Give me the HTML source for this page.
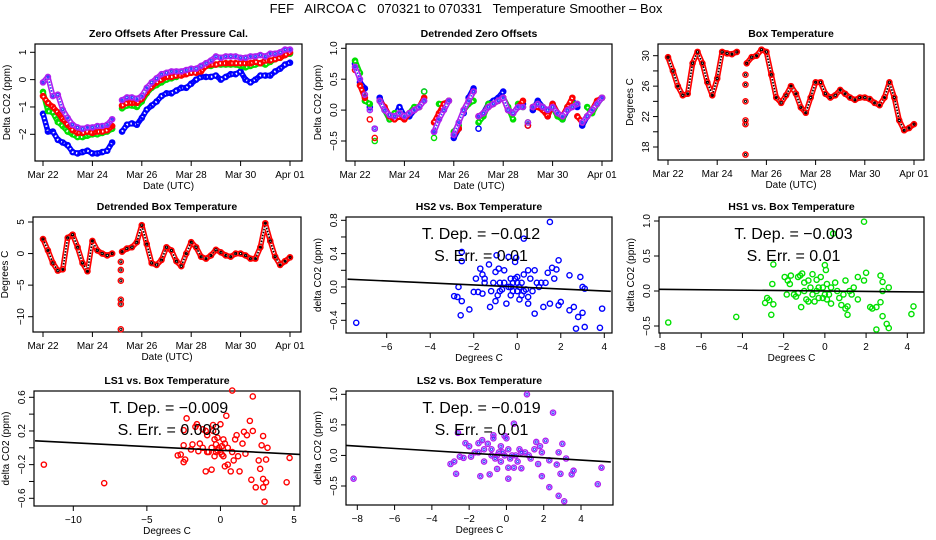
<!DOCTYPE html>
<html><head><meta charset="utf-8"><style>
html,body{margin:0;padding:0;background:#fff;}
svg{display:block;font-family:"Liberation Sans",Arial,sans-serif;}
</style></head><body>
<svg id="chart" width="936" height="540" viewBox="0 0 936 540" xmlns="http://www.w3.org/2000/svg">
<rect width="936" height="540" fill="#fff"/>
<text x="466" y="13" font-size="13" text-anchor="middle" xml:space="preserve">FEF   AIRCOA C   070321 to 070331   Temperature Smoother – Box</text>
</svg>
<script>
// ---------- data ----------
const times = [0,0.2,0.4,0.6,0.8,1,1.2,1.4,1.6,1.8,2,2.2,2.4,2.6,2.8,3,3.2,3.4,3.6,3.8,4,4.2,4.4,4.6,4.8,5,5.2,5.4,5.6,5.8,6,6.2,6.4,6.6,6.8,7,7.2,7.4,7.6,7.8,8,8.2,8.4,8.6,8.8,9,9.2,9.4,9.6,9.8,10];
const dateTicks = [0,2,4,6,8,10];
const dateLabels = ["Mar 22","Mar 24","Mar 26","Mar 28","Mar 30","Apr 01"];

const zeroBlue = [-1.25,-1.9,-1.9,-2.2,-2.3,-2.4,-2.65,-2.7,-2.65,-2.6,-2.7,-2.7,-2.65,-2.6,-2.3,null,-1.9,-1.65,-1.6,-1.65,-1.4,-1.1,-0.95,-0.8,-0.6,-0.5,-0.5,-0.4,-0.3,-0.3,-0.15,0.0,0.1,0.1,0.1,0.15,0.0,0.1,0.2,0.2,0.3,0.0,-0.1,0.0,0.15,0.15,0.15,0.3,0.4,0.55,0.62];
const zeroGreen = [-0.45,-1.15,-1.2,-1.55,-1.7,-1.9,-2.0,-2.1,-2.1,-2.05,-2.0,-2.0,-1.95,-1.9,-1.8,null,-1.05,-0.95,-0.95,-1.0,-0.8,-0.5,-0.3,-0.2,-0.1,0.0,0.05,0.1,0.2,0.3,0.3,0.35,0.45,0.5,0.5,0.55,0.55,0.55,0.55,0.55,0.5,0.45,0.5,0.55,0.6,0.55,0.65,0.75,0.8,0.9,0.95];
const zeroRed = [-0.6,-0.85,-1.0,-1.2,-1.45,-1.65,-1.85,-1.95,-1.95,-1.9,-1.95,-1.9,-1.9,-1.85,-1.7,null,-0.95,-0.85,-0.85,-0.85,-0.7,-0.45,-0.25,-0.1,0.0,0.1,0.1,0.15,0.15,0.2,0.25,0.25,0.3,0.5,0.55,0.55,0.6,0.6,0.6,0.6,0.6,0.6,0.6,0.65,0.6,0.7,0.7,0.75,0.8,0.9,1.0];
const zeroPurple = [-0.1,0.1,-0.6,-0.55,-1.1,-1.4,-1.65,-1.75,-1.8,-1.75,-1.75,-1.7,-1.7,-1.65,-1.45,null,-0.75,-0.65,-0.65,-0.7,-0.6,-0.3,-0.1,0.05,0.2,0.25,0.3,0.3,0.3,0.35,0.4,0.4,0.5,0.6,0.7,0.85,0.8,0.85,0.85,0.85,0.8,0.8,0.85,0.85,0.9,0.85,0.95,0.95,1.0,1.1,1.1];

const detBlue = [0.75,0.45,0.35,0.05,-0.3,0.2,0.0,-0.15,-0.1,0.05,-0.1,-0.1,0.0,0.05,0.3,null,-0.35,-0.1,0.05,0.15,-0.45,-0.3,-0.05,0.2,0.35,-0.3,-0.05,0.1,0.15,0.2,0.3,0.0,-0.05,0.05,0.1,-0.25,0.0,0.15,0.05,-0.1,0.1,-0.05,-0.15,0.0,0.15,0.05,-0.25,-0.1,0.0,0.1,0.2];
const detGreen = [0.8,0.6,0.15,0.1,-0.5,0.15,0.0,-0.15,-0.05,-0.05,-0.1,-0.05,0.05,0.05,0.3,null,-0.45,0.1,0.1,0.15,-0.35,-0.25,0.0,0.1,0.15,-0.2,-0.1,0.1,0.1,0.15,0.2,0.05,-0.15,0.1,0.05,-0.2,0.05,0.1,0.05,-0.05,0.05,-0.1,-0.15,0.05,0.1,0.1,-0.2,0.05,-0.05,0.1,0.2];
const detRed = [0.65,0.4,0.2,-0.15,-0.45,0.15,0.05,-0.1,-0.15,-0.1,-0.15,-0.05,0.0,0.05,0.2,null,-0.2,-0.05,0.1,0.15,-0.4,-0.3,0.0,0.15,0.3,-0.1,-0.05,0.05,0.1,0.15,0.2,0.0,-0.05,0.05,0.15,-0.25,0.05,0.05,0.0,-0.1,0.1,-0.05,-0.1,0.05,0.2,-0.1,-0.2,-0.1,0.0,0.15,0.2];
const detPurple = [0.7,0.5,0.25,0.0,-0.3,0.15,0.0,-0.08,-0.1,-0.05,-0.1,-0.05,0.0,0.05,0.15,null,-0.35,-0.15,0.0,0.15,-0.4,-0.2,0.0,0.15,0.3,-0.1,-0.05,0.05,0.1,0.15,0.2,0.0,-0.05,0.05,0.05,-0.2,0.05,0.1,0.05,0.0,0.05,-0.05,-0.1,0.0,0.05,0.1,-0.2,-0.1,0.0,0.1,0.2];

const boxTemp = [29.8,28,26,24.8,25,29,30.5,29,26.5,24.8,27,30.5,30.3,30.2,30.5,null,29,29.8,30,30.8,30.5,27.5,24.5,23.8,24.8,26,25,23.2,22.5,24.5,26.5,26.5,25,24.5,24.8,25.5,25,24.5,24.2,24.5,24.5,24.3,23.8,23.5,24.5,26.5,24.5,21.5,20.2,20.5,21.0];
const gapTimes = [3.15,3.15,3.15,3.15,3.15,3.15];
const boxTempGap = [17.0,21.0,21.5,24.0,26.2,27.5];

const detTemp = [2.3,0.5,-1.5,-2.7,-2.5,2.5,3.0,1.0,-1.5,-2.8,2.0,0.5,0.0,-0.3,0.0,null,0.3,0.8,1.0,1.8,4.5,1.5,-1.5,-1.8,-1.0,1.0,0.5,-1.2,-2.0,0.0,1.8,1.0,-0.5,-0.8,-0.3,0.6,0.2,-0.3,-0.5,0.0,0.0,-0.3,-0.8,-0.8,1.0,4.8,2.0,-0.5,-1.8,-1.2,-0.6];
const detTempGap = [-12,-8,-7.3,-4.3,-2.6,-1.3];

const hs2Points = [[-7.4,-0.43],[-2.9,-0.11],[-2.75,-0.12],[-2.7,0.0],[-2.6,-0.34],[-2.55,-0.17],[-2.55,0.31],[-2.55,0.42],[-2.2,-0.27],[-2,-0.06],[-1.9,0.1],[-1.8,-0.06],[-1.7,0.22],[-1.6,0.15],[-1.6,-0.08],[-1.5,0.05],[-1.5,0.1],[-1.3,0.27],[-1.25,-0.24],[-1.2,-0.05],[-1.0,0.18],[-0.95,0.38],[-0.9,-0.1],[-0.85,0.22],[-0.8,0.05],[-0.7,-0.03],[-0.6,0.2],[-0.5,-0.2],[-0.4,0.36],[-0.3,0.1],[-0.3,-0.1],[-0.2,0.05],[-0.1,0.3],[-0.05,0.35],[0,-0.05],[0,0.12],[0.1,0.0],[0.2,-0.1],[0.3,0.58],[0.3,0.15],[0.4,-0.03],[0.5,0.2],[0.5,-0.2],[0.6,0.1],[0.7,-0.05],[0.8,-0.32],[0.8,0.2],[1.0,0.0],[1.1,0.05],[1.2,-0.24],[1.4,0.17],[1.5,0.78],[1.5,-0.2],[1.6,0.23],[1.7,0.1],[1.8,0.21],[1.9,0.32],[1.9,-0.22],[2.0,-0.18],[2.4,0.14],[2.4,-0.28],[2.6,-0.24],[2.7,-0.5],[2.8,-0.36],[2.9,0.12],[3.0,-0.31],[3.0,0.0],[3.1,-0.48],[3.8,-0.49],[3.9,-0.26],[3.1,-0.02],[-1.0,-0.17],[-0.8,-0.05],[0.2,0.05],[-0.4,0.0],[0.5,-0.12],[-0.6,0.05],[0.1,-0.15],[-0.2,-0.05],[0.9,0.05],[1.3,0.05],[-1.1,0.05],[-0.1,0.1],[0.0,0.05],[-0.3,0.0],[0.3,-0.05]];
const hs1Points = [[-7.6,-0.45],[-4.3,-0.37],[-2.9,-0.17],[-2.8,-0.1],[-2.7,-0.13],[-2.6,-0.34],[-2.55,0.1],[-2.5,0.38],[-2.5,-0.19],[-1.95,0.2],[-1.85,-0.05],[-1.8,0.15],[-1.7,0.1],[-1.65,0.22],[-1.5,-0.05],[-1.4,-0.08],[-1.3,0.2],[-1.2,0.22],[-1.15,-0.23],[-1.1,0.25],[-1.0,0.12],[-0.9,-0.12],[-0.8,0.15],[-0.7,0.05],[-0.6,0.24],[-0.5,-0.15],[-0.4,0.16],[-0.3,0.05],[-0.2,0.2],[-0.1,-0.1],[0,0.37],[0.05,0.3],[0.1,0.1],[0.2,-0.05],[0.3,-0.18],[0.4,0.82],[0.5,0.12],[0.7,-0.1],[0.8,-0.2],[1.0,0.15],[1.0,-0.25],[1.1,-0.34],[1.1,-0.22],[1.2,0.0],[1.4,0.05],[1.6,0.2],[1.6,-0.12],[1.9,0.99],[1.9,0.15],[2.0,0.26],[2.2,-0.23],[2.3,-0.25],[2.5,-0.23],[2.5,-0.55],[2.7,0.22],[2.7,-0.16],[2.8,0.13],[2.8,-0.36],[2.8,0.0],[3.0,-0.47],[3.1,-0.53],[3.1,0.05],[4.2,-0.33],[4.3,-0.22],[-0.3,-0.1],[0.3,0.05],[-0.6,-0.05],[0.6,0.0],[-1.0,0.0],[0.9,-0.05],[-0.8,-0.15],[0.0,-0.05],[1.3,-0.05],[-1.3,-0.03],[-0.1,0.05],[0.1,-0.12],[-0.4,0.0]];
const ls1Points = [[-12,-0.2],[-7.9,-0.42],[-2.9,-0.09],[-2.7,-0.08],[-2.5,-0.17],[-2.5,0.21],[-2.5,0.03],[-2.4,-0.14],[-2.3,0.35],[-2.0,-0.02],[-1.9,0.04],[-1.7,0.25],[-1.6,0.28],[-1.5,-0.04],[-1.4,0.05],[-1.2,0.22],[-1.0,-0.28],[-1.0,0.2],[-0.9,0.15],[-0.8,-0.05],[-0.6,-0.26],[-0.5,0.27],[-0.5,0.2],[-0.4,0.1],[-0.3,0.04],[-0.2,0.12],[0.0,0.28],[0.0,-0.05],[0.2,-0.1],[0.3,-0.22],[0.4,0.38],[0.5,-0.2],[0.7,-0.28],[0.8,0.68],[0.9,-0.15],[1.0,0.1],[1.1,0.15],[1.2,-0.1],[1.3,-0.28],[1.5,0.05],[1.6,0.19],[1.7,-0.07],[1.8,0.15],[2.0,0.32],[2.1,-0.38],[2.2,0.61],[2.2,0.2],[2.4,-0.47],[2.6,-0.15],[2.7,-0.25],[2.8,0.03],[2.9,-0.37],[2.9,-0.47],[2.9,0.14],[3.0,-0.64],[3.1,-0.14],[3.1,-0.41],[3.2,0.0],[4.5,-0.41],[4.7,-0.12],[-0.6,0.0],[0.1,0.02],[-0.2,-0.03],[0.5,0.0],[-0.9,-0.05],[0.3,0.05],[-1.2,0.0],[0.8,-0.05],[-0.4,-0.1],[0.1,-0.08],[-0.1,0.0],[0.2,0.1],[-0.3,-0.05]];
const ls2Points = [[-8.2,-0.38],[-3.0,-0.14],[-2.8,-0.1],[-2.7,-0.3],[-2.6,0.37],[-2.5,-0.02],[-2.3,-0.04],[-2.2,0.2],[-2.0,0.15],[-1.9,-0.02],[-1.7,0.05],[-1.5,0.2],[-1.4,-0.34],[-1.3,0.25],[-1.2,0.1],[-1.2,-0.1],[-1.0,0.19],[-0.9,-0.31],[-0.8,0.0],[-0.7,0.33],[-0.7,0.28],[-0.5,-0.22],[-0.4,0.05],[-0.3,0.15],[-0.1,0.32],[0.0,0.28],[0.1,-0.38],[0.1,-0.2],[0.3,0.0],[0.4,0.52],[0.4,-0.2],[0.7,0.1],[0.8,-0.21],[1.0,0.05],[1.1,1.0],[1.3,-0.05],[1.5,0.1],[1.6,0.22],[1.7,-0.14],[1.8,0.15],[1.9,0.05],[1.9,-0.34],[2.1,0.24],[2.3,-0.08],[2.3,-0.52],[2.5,0.7],[2.7,-0.15],[2.8,-0.66],[2.8,0.05],[2.9,-0.3],[3.0,0.19],[3.1,-0.75],[3.2,-0.05],[3.5,-0.31],[3.6,-0.25],[4.9,-0.47],[5.1,-0.2],[-0.5,0.0],[0.5,0.0],[-0.2,0.05],[0.2,-0.05],[-0.8,0.1],[0.8,0.05],[-0.3,-0.1],[1.2,0.0],[-1.5,0.05],[0.6,-0.1],[-0.1,0.0],[0.1,0.1],[-0.6,-0.05]];

const fitSlopes = [-0.012,-0.003,-0.009,-0.019];
const fitIntercepts = [0.0,0.0,-0.03,0.0];
const fitDepLabels = ["−0.012","−0.003","−0.009","−0.019"];
const fitErrLabels = ["0.01","0.01","0.008","0.01"];

// ---------- drawing ----------
const NS = "http://www.w3.org/2000/svg";
const svg = document.getElementById("chart");
function mk(tag, attrs, parent){ const e=document.createElementNS(NS,tag); for(const k in attrs) e.setAttribute(k,attrs[k]); (parent||svg).appendChild(e); return e; }
function lin(d0,d1,r0,r1){ return v => r0 + (v-d0)*(r1-r0)/(d1-d0); }
function fmt(v,dec){ const s=v.toFixed(dec); return s.startsWith("-")? "−"+s.slice(1): s; }

function panel(o){
  const g = mk("g",{});
  
  
  const box = mk("rect",{x:o.L,y:o.T,width:o.R-o.L,height:o.B-o.T,fill:"none",stroke:"#000","stroke-width":1.2},g);
  
  
  const t = mk("text",{x:(o.L+o.R)/2,y:o.T-7,"font-size":10.5,"font-weight":"bold","text-anchor":"middle"},g);
  t.textContent=o.title;
  
  
  const xa = mk("g",{},g);
  
  
  o.xTicks.forEach((v,i)=>{
    const x=o.sx(v);
    mk("line",{x1:x,x2:x,y1:o.B,y2:o.B+5,stroke:"#000"},xa);
    const tx=mk("text",{x:x,y:o.B+17,"font-size":10,"text-anchor":"middle"},xa);
    tx.textContent=o.xLabels[i];
    
    
  });
  const xt=mk("text",{x:(o.L+o.R)/2,y:o.B+28,"font-size":10,"text-anchor":"middle"},g);
  xt.textContent=o.xTitle;
  
  
  const ya = mk("g",{},g);
  
  
  o.yTicks.forEach((v)=>{
    const y=o.sy(v);
    mk("line",{x1:o.L-5,x2:o.L,y1:y,y2:y,stroke:"#000"},ya);
  });
  o.yLabelVals.forEach((v)=>{
    const y=o.sy(v);
    const tx=mk("text",{x:0,y:0,"font-size":10,"text-anchor":"middle",transform:`translate(${o.L-9},${y}) rotate(-90)`},ya);
    tx.textContent=fmt(v,o.yDec);
    
    
  });
  const yt=mk("text",{x:0,y:0,"font-size":10,"text-anchor":"middle",transform:`translate(${o.L-25},${(o.T+o.B)/2}) rotate(-90)`},g);
  yt.textContent=o.yTitle;
  
  
  return g;
}
function pt(g,x,y,color,inner){
  const c=mk("circle",{cx:x,cy:y,r:2.6,fill:"none",stroke:color,"stroke-width":1.4},g);
  
  
  if(inner){ mk("circle",{cx:x,cy:y,r:1.1,fill:"none",stroke:inner,"stroke-width":0.9},g); }
}
// dense trace: connect neighbouring samples (break on gaps/large jumps) to mimic the dense point cloud
function trace(g,o,vals,color,inner,maxJump){
  let d="";
  let prev=null;
  vals.forEach((v,i)=>{
    if(v===null||v===undefined||times[i]===undefined){ prev=null; return; }
    const x=o.sx(times[i]), y=o.sy(v);
    if(prev && Math.abs(y-prev[1])<maxJump) d+=`L${x},${y}`; else d+=`M${x},${y}`;
    prev=[x,y];
  });
  const p=mk("path",{d:d,fill:"none",stroke:color,"stroke-width":5.5,"stroke-linecap":"round","stroke-linejoin":"round"},g);
  
  
  if(inner){
    mk("path",{d:d,fill:"none",stroke:"#fff","stroke-width":2.2,"stroke-linejoin":"round"},g);
    mk("path",{d:d,fill:"none",stroke:inner,"stroke-width":1.6,"stroke-dasharray":"1.6 1.4","stroke-linejoin":"round"},g);
  } else {
    mk("path",{d:d,fill:"none",stroke:"#fff","stroke-width":2,"stroke-dasharray":"1.5 2.5","stroke-linejoin":"round"},g);
  }
}
function series(g,o,vals,color,name,inner,maxJump){
  const s=mk("g",{},g);
  
  
  trace(s,o,vals,color,inner,maxJump||12);
  vals.forEach((v,i)=>{ if(v===null||v===undefined||times[i]===undefined) return; pt(s,o.sx(times[i]),o.sy(v),color,inner); });
  return s;
}

const BLUE="#0000ff", GREEN="#00e000", RED="#ff0000", PURPLE="#b020f0";

const p1={name:"zero-offsets-panel",title:"Zero Offsets After Pressure Cal.",L:35,R:302,T:44,B:161,
  sx:lin(0,10,43,290),sy:lin(1,-2,52.3,134.3),xTicks:dateTicks,xLabels:dateLabels,xTitle:"Date (UTC)",
  yTicks:[-2,-1,0,1],yLabelVals:[-2,-1,0,1],yDec:0,yTitle:"Delta CO2 (ppm)"};
let g1=panel(p1);
series(g1,p1,zeroBlue,BLUE,"series-blue",null,20);
series(g1,p1,zeroGreen,GREEN,"series-green",null,20);
series(g1,p1,zeroRed,RED,"series-red",null,20);
series(g1,p1,zeroPurple,PURPLE,"series-purple","#3040ff",20);

const p2={name:"detrended-zero-panel",title:"Detrended Zero Offsets",L:346,R:612,T:44,B:161,
  sx:lin(0,10,355,602),sy:lin(1,-0.5,48.3,141),xTicks:dateTicks,xLabels:dateLabels,xTitle:"Date (UTC)",
  yTicks:[-0.5,0,0.5,1],yLabelVals:[-0.5,0,0.5,1],yDec:1,yTitle:"Delta CO2 (ppm)"};
let g2=panel(p2);
series(g2,p2,detBlue,BLUE,"series-blue",null,14);
series(g2,p2,detGreen,GREEN,"series-green",null,14);
series(g2,p2,detRed,RED,"series-red",null,14);
series(g2,p2,detPurple,PURPLE,"series-purple","#3040ff",14);

const p3={name:"box-temperature-panel",title:"Box Temperature",L:658,R:924,T:44,B:160,
  sx:lin(0,10,668,914),sy:lin(30,18,55.7,147),xTicks:dateTicks,xLabels:dateLabels,xTitle:"Date (UTC)",
  yTicks:[18,20,22,24,26,28,30],yLabelVals:[18,22,26,30],yDec:0,yTitle:"Degrees C"};
let g3=panel(p3);
let s3=series(g3,p3,boxTemp,RED,"series-box-temp","#000",40);
boxTempGap.forEach((v,i)=>pt(s3,p3.sx(gapTimes[i]),p3.sy(v),RED,"#000"));

const p4={name:"detrended-box-temp-panel",title:"Detrended Box Temperature",L:33,R:301,T:217,B:332,
  sx:lin(0,10,43,290),sy:lin(5,-10,222,316.7),xTicks:dateTicks,xLabels:dateLabels,xTitle:"Date (UTC)",
  yTicks:[-10,-5,0,5],yLabelVals:[-10,-5,0,5],yDec:0,yTitle:"Degrees C"};
let g4=panel(p4);
let s4=series(g4,p4,detTemp,RED,"series-detrended-temp","#000",40);
detTempGap.forEach((v,i)=>pt(s4,p4.sx(gapTimes[i]),p4.sy(v),RED,"#000"));

function scatter(o,pts,color,inner,k){
  const g=panel(o);
  const s=mk("g",{},g);
  
  
  pts.forEach(p=>pt(s,o.sx(p[0]),o.sy(p[1]),color,inner));
  const x0=o.xMin,x1=o.xMax;
  const ln=mk("line",{x1:o.sx(x0),y1:o.sy(fitIntercepts[k]+fitSlopes[k]*x0),x2:o.sx(x1),y2:o.sy(fitIntercepts[k]+fitSlopes[k]*x1),stroke:"#000","stroke-width":1.6},g);
  
  
  const cx=(o.L+o.R)/2+2;
  const a=mk("text",{x:cx,y:o.T+22,"font-size":16,"text-anchor":"middle","xml:space":"preserve"},g);
  a.textContent="T. Dep. =  "+fitDepLabels[k];
  
  
  const b=mk("text",{x:cx,y:o.T+44,"font-size":16,"text-anchor":"middle","xml:space":"preserve"},g);
  b.textContent="S. Err. =  "+fitErrLabels[k];
  
  
}
scatter({name:"hs2-vs-temp-panel",title:"HS2 vs. Box Temperature",L:346,R:612,T:217,B:333,
  sx:lin(-6,4,386.7,604.3),sy:lin(0.8,-0.4,220.3,320.3),xMin:-7.8,xMax:4.3,
  xTicks:[-6,-4,-2,0,2,4],xLabels:["−6","−4","−2","0","2","4"],xTitle:"Degrees C",
  yTicks:[-0.4,-0.2,0,0.2,0.4,0.6,0.8],yLabelVals:[-0.4,0,0.4,0.8],yDec:1,yTitle:"delta CO2 (ppm)"},hs2Points,BLUE,null,0);
scatter({name:"hs1-vs-temp-panel",title:"HS1 vs. Box Temperature",L:659,R:924,T:217,B:333,
  sx:lin(-8,4,660,907.3),sy:lin(1,-0.5,221,326),xMin:-8.05,xMax:4.8,
  xTicks:[-8,-6,-4,-2,0,2,4],xLabels:["−8","−6","−4","−2","0","2","4"],xTitle:"Degrees C",
  yTicks:[-0.5,0,0.5,1],yLabelVals:[-0.5,0,0.5,1],yDec:1,yTitle:"delta CO2 (ppm)"},hs1Points,GREEN,null,1);
scatter({name:"ls1-vs-temp-panel",title:"LS1 vs. Box Temperature",L:34,R:300,T:391,B:506,
  sx:lin(-10,5,73.3,294),sy:lin(0.6,-0.6,397.3,498.3),xMin:-12.6,xMax:5.4,
  xTicks:[-10,-5,0,5],xLabels:["−10","−5","0","5"],xTitle:"Degrees C",
  yTicks:[-0.6,-0.4,-0.2,0,0.2,0.4,0.6],yLabelVals:[-0.6,-0.2,0.2,0.6],yDec:1,yTitle:"delta CO2 (ppm)"},ls1Points,RED,null,2);
scatter({name:"ls2-vs-temp-panel",title:"LS2 vs. Box Temperature",L:346,R:613,T:391,B:505,
  sx:lin(-8,4,357.3,581),sy:lin(1,-0.5,394.3,486),xMin:-8.6,xMax:5.6,
  xTicks:[-8,-6,-4,-2,0,2,4],xLabels:["−8","−6","−4","−2","0","2","4"],xTitle:"Degrees C",
  yTicks:[-0.5,0,0.5,1],yLabelVals:[-0.5,0,0.5,1],yDec:1,yTitle:"delta CO2 (ppm)"},ls2Points,PURPLE,"#3040ff",3);
</script>
</body></html>
